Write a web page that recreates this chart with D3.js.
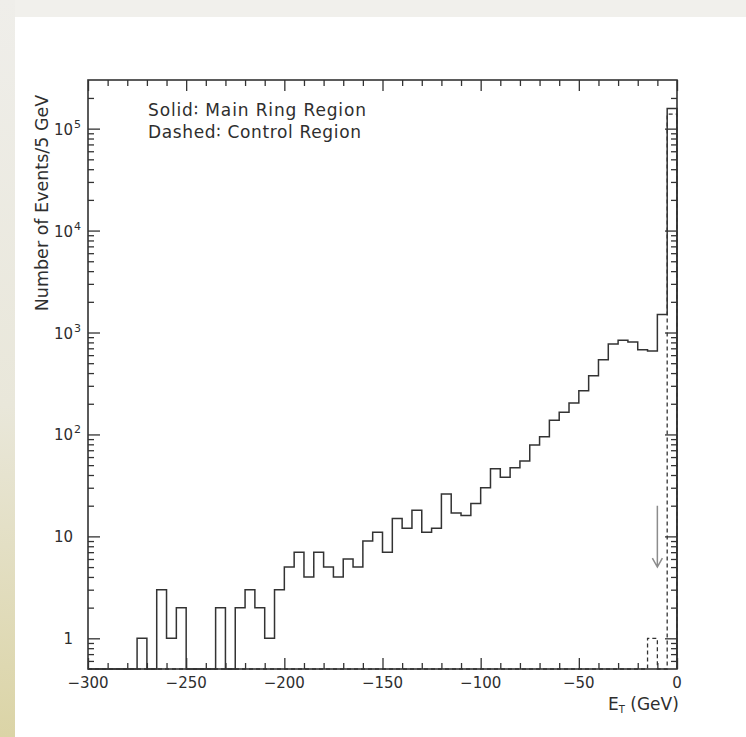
<!DOCTYPE html>
<html>
<head>
<meta charset="utf-8">
<script src="https://cdn.jsdelivr.net/npm/d3@7"></script>
<style>
  html, body { margin: 0; padding: 0; background: #fff; }
  svg { display: block; }
  text { font-family: "DejaVu Sans", "Liberation Sans", sans-serif; fill: #2e2e2e; }
</style>
</head>
<body>
<svg id="chart" width="746" height="737"></svg>
<script>
// Histogram binning: 5 GeV bins from -300 to 0 GeV
const binStart = -300;
const binWidth = 5;

// Events per bin, main ring region (solid)
const solidCounts = [
  0, 0, 0, 0, 0, 1, 0, 3, 1, 2,
  0, 0, 0, 2, 0, 2, 3, 2, 1, 3,
  5, 7, 4, 7, 5, 4, 6, 5, 9, 11,
  7, 15, 12, 18, 11, 12, 26, 17, 16, 21,
  30, 46, 38, 47, 55, 79, 95, 138, 165, 203,
  268, 377, 541, 772, 838, 807, 679, 659, 1500, 158000
];

// Events per bin, control region (dashed)
const dashedCounts = [
  0, 0, 0, 0, 0, 0, 0, 0, 0, 0,
  0, 0, 0, 0, 0, 0, 0, 0, 0, 0,
  0, 0, 0, 0, 0, 0, 0, 0, 0, 0,
  0, 0, 0, 0, 0, 0, 0, 0, 0, 0,
  0, 0, 0, 0, 0, 0, 0, 0, 0, 0,
  0, 0, 0, 0, 0, 0, 0, 1, 0, 139000
];

// Axis ticks and labels
const xMajorTicks = [-300, -250, -200, -150, -100, -50, 0];
const xTickLabels = ["\u2212300", "\u2212250", "\u2212200", "\u2212150", "\u2212100", "\u221250", "0"];
const yMajorTicks = [1, 10, 100, 1000, 10000, 100000];
const yTickMantissa = ["1", "10", "10", "10", "10", "10"];
const yTickExponent = ["", "", "2", "3", "4", "5"];

// Cut marker (arrow) position and extent
const cutX = -10;
const cutFrom = 20;
const cutTo = 5;

const legendLines = ["Solid\u2236 Main Ring Region", "Dashed\u2236 Control Region"];

(function draw() {
  const svg = d3.select("#chart");
  const pl = 88, pr = 677, pt = 80, pb = 669;
  const ink = "#333";

  // page backdrop bands
  const defs = svg.append("defs");
  const grad = defs.append("linearGradient").attr("id", "edgeGrad")
    .attr("x1", 0).attr("y1", 0).attr("x2", 0).attr("y2", 1);
  grad.append("stop").attr("offset", "0").attr("stop-color", "#efeeea");
  grad.append("stop").attr("offset", "0.55").attr("stop-color", "#e9e7da");
  grad.append("stop").attr("offset", "1").attr("stop-color", "#dbd4a6");
  svg.append("rect").attr("x", 0).attr("y", 0).attr("width", 746).attr("height", 17).attr("fill", "#f1f0ec");
  svg.append("rect").attr("x", 0).attr("y", 0).attr("width", 15).attr("height", 737).attr("fill", "url(#edgeGrad)");

  const x = d3.scaleLinear().domain([-300, 0]).range([pl, pr]);
  const y = d3.scaleLog().domain([0.5, 3e5]).range([pb, pt]);

  // minor tick values
  const xMinor = d3.range(-300, 1, 10).filter(v => xMajorTicks.indexOf(v) < 0);
  const yMinor = [];
  [0.1, 1, 10, 100, 1000, 10000, 100000].forEach(d => {
    for (let k = 2; k <= 9; k++) {
      const v = d * k;
      if (v > 0.5 && v < 3e5 && yMajorTicks.indexOf(v) < 0) yMinor.push(v);
    }
  });

  function tickGroup(axisFn, transform) {
    const g = svg.append("g").attr("transform", transform).call(axisFn);
    g.select(".domain").remove();
    g.selectAll("line").attr("stroke", ink).attr("stroke-width", 1.3);
    g.selectAll("text").remove();
    return g;
  }

  // ticks on all four sides, pointing inward
  tickGroup(d3.axisBottom(x).tickValues(xMajorTicks).tickSize(-11).tickFormat(""), `translate(0,${pb})`);
  tickGroup(d3.axisBottom(x).tickValues(xMinor).tickSize(-6).tickFormat(""), `translate(0,${pb})`);
  tickGroup(d3.axisTop(x).tickValues(xMajorTicks).tickSize(-11).tickFormat(""), `translate(0,${pt})`);
  tickGroup(d3.axisTop(x).tickValues(xMinor).tickSize(-6).tickFormat(""), `translate(0,${pt})`);
  tickGroup(d3.axisLeft(y).tickValues(yMajorTicks).tickSize(-12).tickFormat(""), `translate(${pl},0)`);
  tickGroup(d3.axisLeft(y).tickValues(yMinor).tickSize(-6).tickFormat(""), `translate(${pl},0)`);
  tickGroup(d3.axisRight(y).tickValues(yMajorTicks).tickSize(-12).tickFormat(""), `translate(${pr},0)`);
  tickGroup(d3.axisRight(y).tickValues(yMinor).tickSize(-6).tickFormat(""), `translate(${pr},0)`);

  // histogram outlines; empty bins drop to the lower frame edge
  function stepPoints(counts) {
    const pts = [[x(binStart), pb]];
    counts.forEach((v, i) => {
      const lo = binStart + i * binWidth, hi = lo + binWidth;
      const yy = v > 0 ? y(v) : pb;
      pts.push([x(lo), yy], [x(hi), yy]);
    });
    pts.push([x(binStart + counts.length * binWidth), pb]);
    return pts;
  }
  const line = d3.line();

  svg.append("path").attr("d", line(stepPoints(solidCounts)))
    .attr("fill", "none").attr("stroke", ink).attr("stroke-width", 1.5);
  svg.append("path").attr("d", line(stepPoints(dashedCounts)))
    .attr("fill", "none").attr("stroke", ink).attr("stroke-width", 1.3)
    .attr("stroke-dasharray", "4,3");

  // frame
  svg.append("rect").attr("x", pl).attr("y", pt)
    .attr("width", pr - pl).attr("height", pb - pt)
    .attr("fill", "none").attr("stroke", ink).attr("stroke-width", 1.6);

  // cut arrow
  const ax = x(cutX), ay0 = y(cutFrom), ay1 = y(cutTo);
  svg.append("path")
    .attr("d", `M${ax},${ay0}L${ax},${ay1}M${ax - 5},${ay1 - 9}L${ax},${ay1}L${ax + 5},${ay1 - 9}`)
    .attr("fill", "none").attr("stroke", "#8c8c8c").attr("stroke-width", 1.5);

  // x tick labels
  svg.append("g").selectAll("text").data(xMajorTicks).join("text")
    .attr("x", d => x(d)).attr("y", 688)
    .attr("text-anchor", "middle").attr("font-size", 15)
    .text((d, i) => xTickLabels[i]);

  // y tick labels with superscript exponent
  const yl = svg.append("g").selectAll("g").data(yMajorTicks).join("g");
  yl.append("text")
    .attr("x", 73).attr("y", d => y(d) + 6)
    .attr("text-anchor", "end").attr("font-size", 15)
    .text((d, i) => yTickMantissa[i]);
  yl.append("text")
    .attr("x", 74).attr("y", d => y(d) - 1)
    .attr("font-size", 11)
    .text((d, i) => yTickExponent[i]);

  // axis titles
  const xt = svg.append("text").attr("x", 608).attr("y", 710).attr("font-size", 17);
  xt.append("tspan").text("E");
  xt.append("tspan").attr("font-size", 10).attr("dy", 3).text("T");
  xt.append("tspan").attr("dy", -3).text(" (GeV)");

  svg.append("text")
    .attr("transform", "translate(48,203) rotate(-90)")
    .attr("text-anchor", "middle").attr("font-size", 17.5)
    .text("Number of Events/5 GeV");

  // legend text
  legendLines.forEach((t, i) => {
    svg.append("text").attr("x", 148).attr("y", 116 + i * 22.3)
      .attr("font-size", 17).attr("textLength", i === 0 ? 218 : 213).attr("lengthAdjust", "spacing")
      .text(t);
  });
})();
</script>
</body>
</html>
